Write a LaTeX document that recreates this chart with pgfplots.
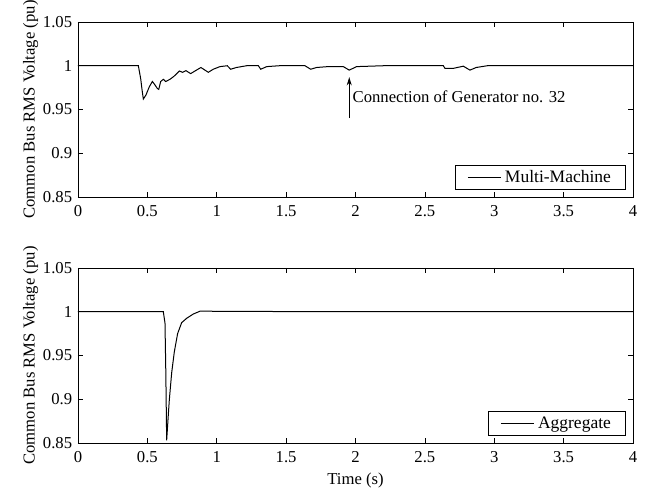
\documentclass[border=0pt]{standalone}
\usepackage{fontspec}
\setmainfont{Liberation Serif}
\usepackage{pgfplots}
\pgfplotsset{compat=1.18}
\usetikzlibrary{arrows.meta}
\begin{document}
\begin{tikzpicture}
\path[use as bounding box] (0,0) rectangle (388.8pt,294pt);
\pgfplotsset{
  myax/.style={
    scale only axis, width=333pt, height=105pt,
    xmin=0, xmax=4, ymin=0.85, ymax=1.05,
    xtick={0,0.5,1,1.5,2,2.5,3,3.5,4},
    xticklabels={0,0.5,1,1.5,2,2.5,3,3.5,4},
    ytick={0.85,0.9,0.95,1,1.05},
    yticklabels={0.85,0.9,0.95,1,1.05},
    tick align=inside, tick pos=both,
    major tick length=3pt,
    every tick/.style={black, line width=0.4pt},
    axis line style={line width=0.5pt},
    tick label style={font=\fontsize{10}{12}\selectfont},
    xticklabel style={yshift=-1.5pt},
    label style={font=\fontsize{10}{12}\selectfont},
    ylabel={Common Bus RMS Voltage (pu)},
    ylabel style={yshift=-4pt},
    legend style={at={(1,0)}, anchor=south east, xshift=-4pt, yshift=4pt,
      font=\fontsize{10.5}{12}\selectfont, draw=black, line width=0.5pt,
      inner xsep=7pt, inner ysep=1pt, cells={anchor=west}},
    legend image code/.code={\path (0pt,0pt) -- (3pt,0pt); \draw[#1] (3pt,0pt) -- (20pt,0pt);},
  }
}
\begin{axis}[myax, at={(46.8pt,175.8pt)}, anchor=south west]
\addplot[black, line width=0.6pt] coordinates {
(0,1.0) (0.435,1.0) (0.452,0.985) (0.462,0.972) (0.471,0.962) (0.490,0.9666)
(0.514,0.976) (0.536,0.982) (0.555,0.978) (0.572,0.974) (0.582,0.973) (0.596,0.982)
(0.615,0.9845) (0.632,0.982) (0.663,0.9845) (0.692,0.988) (0.712,0.991) (0.730,0.994)
(0.754,0.9925) (0.778,0.9944) (0.812,0.991) (0.843,0.994) (0.886,0.998) (0.939,0.9925)
(0.975,0.996) (1.023,0.999) (1.076,1.0) (1.100,0.996) (1.142,0.998) (1.215,1.0)
(1.300,1.0) (1.317,0.996) (1.360,0.999) (1.45,1.0) (1.636,1.0) (1.677,0.996)
(1.72,0.998) (1.80,0.999) (1.912,0.999) (1.955,0.995) (2.008,0.999) (2.2,1.0)
(2.633,1.0) (2.645,0.997) (2.705,0.997) (2.777,0.9995) (2.825,0.995) (2.87,0.998)
(2.95,1.0) (4,1.0)
};
\addlegendentry{Multi-Machine}
\draw[-{Stealth[length=5pt,width=3pt]}, line width=0.5pt] (axis cs:1.955,0.94) -- (axis cs:1.955,0.987);
\node[anchor=west, font=\fontsize{10}{12}\selectfont, inner sep=1pt] at (axis cs:1.965,0.964) {Connection of Generator no. 32};
\end{axis}
\begin{axis}[myax, at={(46.8pt,28.2pt)}, anchor=south west, xlabel={Time (s)}, xlabel style={yshift=1pt}]
\addplot[black, line width=0.6pt] coordinates {
(0,1.0) (0.615,1.0) (0.627,0.987) (0.633,0.93) (0.639,0.853) (0.648,0.875)
(0.658,0.899) (0.675,0.930) (0.694,0.954) (0.718,0.975) (0.747,0.9875) (0.783,0.9925)
(0.831,0.9974) (0.879,1.0006) (1.13,1.0005) (1.5,1.0002) (4,1.0)
};
\addlegendentry{Aggregate}
\end{axis}
\end{tikzpicture}
\end{document}
